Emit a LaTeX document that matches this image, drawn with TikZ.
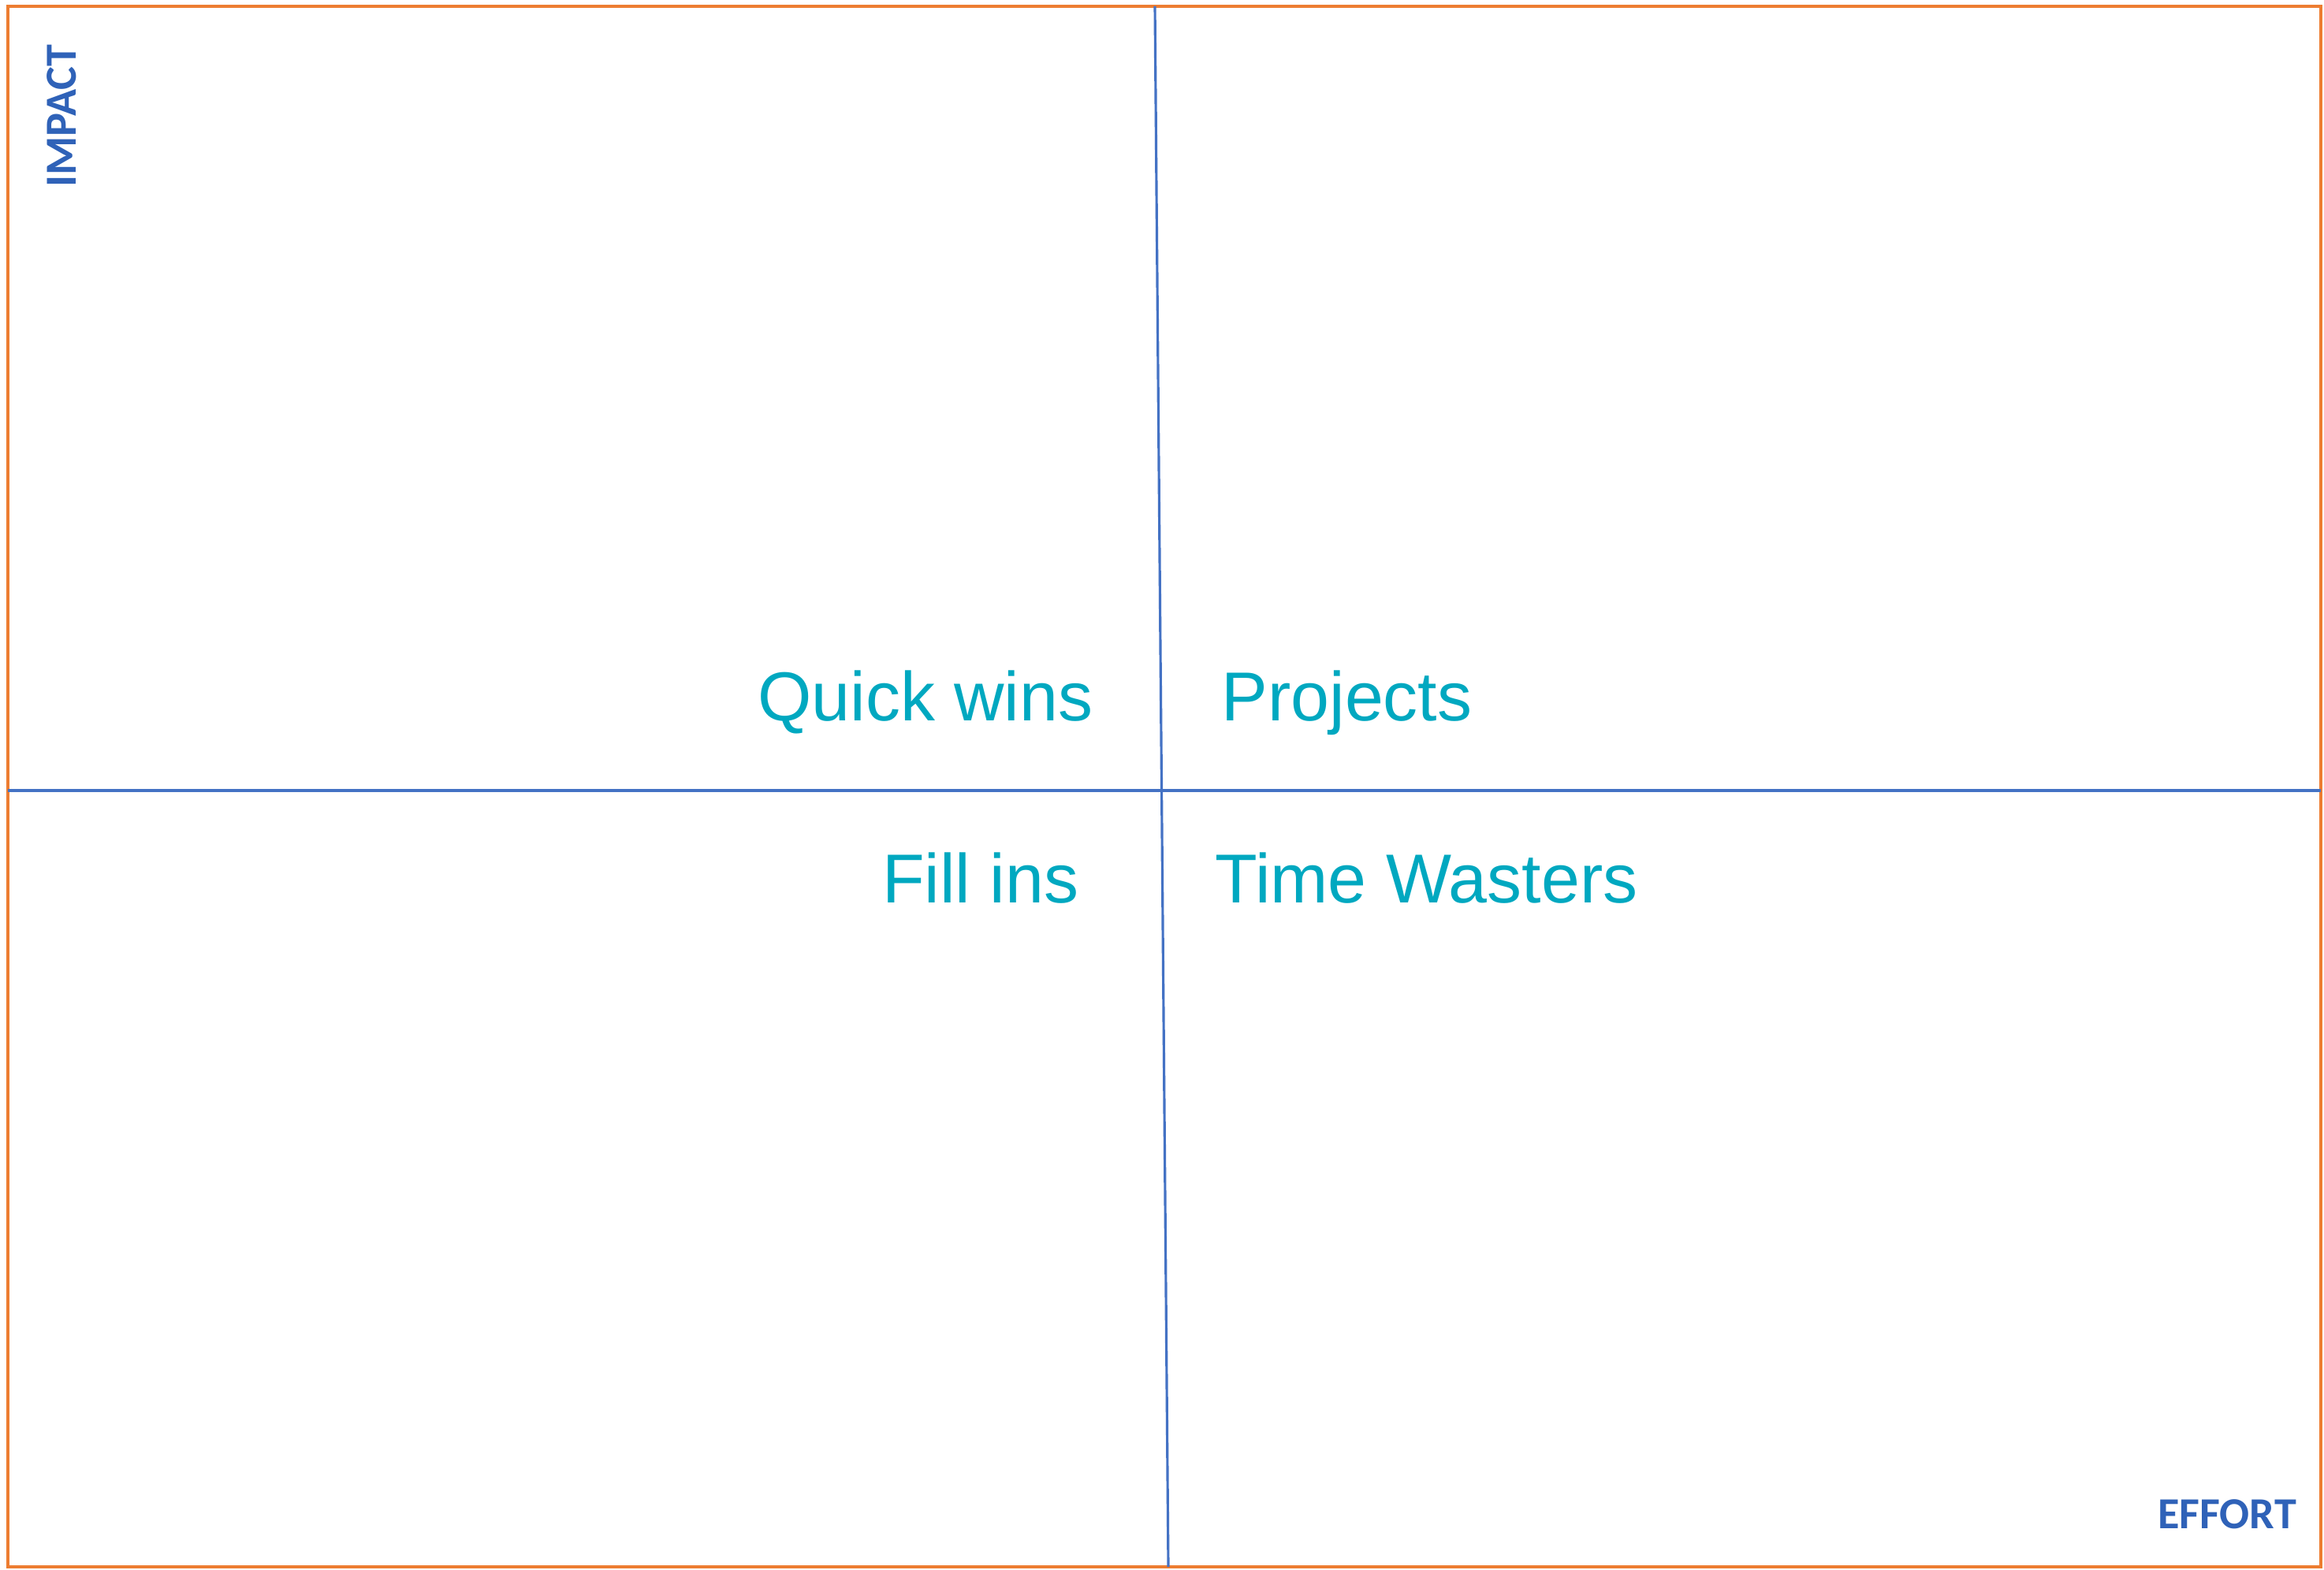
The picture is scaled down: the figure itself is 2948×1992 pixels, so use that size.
\documentclass[tikz,border=0pt]{standalone}
\usepackage{fontspec}
\newfontfamily\quadfont{Liberation Sans}
\newfontfamily\axisfont{Carlito}
\definecolor{frameorange}{RGB}{237,125,49}
\definecolor{gridblue}{RGB}{68,114,196}
\definecolor{axisblue}{RGB}{47,98,184}
\definecolor{quadteal}{RGB}{0,168,192}
\tikzset{
  quadlabel/.style={font=\quadfont\fontsize{25}{30}\selectfont, text=quadteal, inner sep=0pt},
  axislabel/.style={font=\axisfont\bfseries\fontsize{16}{19}\selectfont, text=axisblue, inner sep=0pt},
  gridline/.style={line width=0.9pt, color=gridblue},
}

\begin{document}
\begin{tikzpicture}[x=0.01cm, y=-0.01cm]
			%%%%% FRAME %%%%%
			\useasboundingbox (0, 0) rectangle (2948, 1992);
			\draw[line width=1.2pt, color=frameorange] (10, 8) rectangle (2944, 1988);
			
			\coordinate (gridtop) at (1465, 8);
			\coordinate (gridbottom) at (1482, 1988);
			\coordinate (gridleft) at (10, 1003);
			\coordinate (gridright) at (2944, 1003);
			
			\draw[gridline] (gridtop) -- (gridbottom);
			\draw[gridline] (gridleft) -- (gridright);
			
			%%%%% QUADRANTS %%%%%
			\node[quadlabel, anchor=base east] (quickwins) at (1387, 915) {Quick wins};
			\node[quadlabel, anchor=base west] (projects) at (1549, 915) {Projects};
			\node[quadlabel, anchor=base east] (fillins) at (1369, 1146) {Fill ins};
			\node[quadlabel, anchor=base west] (timewasters) at (1541, 1146) {Time Wasters};
			
			%%%%% AXES %%%%%
			\node[axislabel, rotate=90] (impact) at (78, 147) {IMPACT};
			\node[axislabel] (effort) at (2825, 1921) {EFFORT};
		\end{tikzpicture}
\end{document}
